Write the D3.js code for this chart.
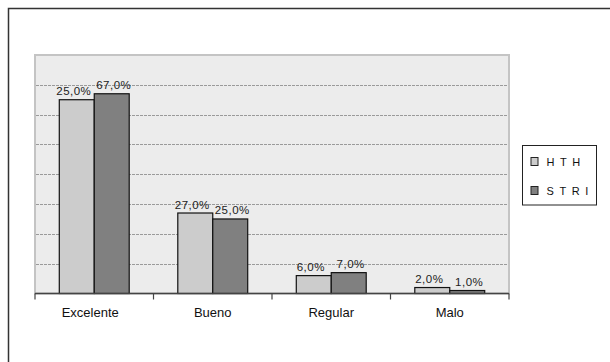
<!DOCTYPE html>
<html><head><meta charset="utf-8">
<script src="https://cdn.jsdelivr.net/npm/d3@7"></script>
<style>
body{margin:0;background:#fff;}
svg{display:block;font-family:"Liberation Sans",Arial,sans-serif;}
</style></head>
<body><svg id="c" width="610" height="362"></svg>
<script>
const categories = ["Excelente","Bueno","Regular","Malo"];
const seriesNames = ["HTH","STRI"];
const hthValues = [65,27,6,2];
const striValues = [67,25,7,1];
const hthLabels = ["25,0%","27,0%","6,0%","2,0%"];
const striLabels = ["67,0%","25,0%","7,0%","1,0%"];
const yTicks = [0,10,20,30,40,50,60,70,80];
const colors = ["#cccccc","#808080"];

const svg = d3.select("#c");
// outer frame (extends beyond the picture on right/bottom)
svg.append("rect").attr("x",8.5).attr("y",8.5).attr("width",700).attr("height",500)
  .attr("fill","none").attr("stroke","#333").attr("stroke-width",1.5);

const L=35, R=509, T=55, B=293.5;
const x0 = d3.scaleBand().domain(categories).range([L,R]).paddingInner(0.41).paddingOuter(0.205);
const x1 = d3.scaleBand().domain(seriesNames).range([0,x0.bandwidth()]);
const y = d3.scaleLinear().domain([0,80]).range([B,T]);

svg.append("rect").attr("x",L).attr("y",T).attr("width",R-L).attr("height",B-T)
  .attr("fill","#ececec").attr("stroke","#c4c4c4").attr("stroke-width",2);

svg.append("g").selectAll("line").data(yTicks.filter(t=>t>0&&t<80)).join("line")
  .attr("x1",L+1).attr("x2",R-1).attr("y1",d=>Math.round(y(d))+0.5).attr("y2",d=>Math.round(y(d))+0.5)
  .attr("stroke","#9a9a9a").attr("stroke-width",1).attr("stroke-dasharray","3,1");

const data = categories.map((c,i)=>({cat:c, vals:[
  {s:"HTH", v:hthValues[i], lab:hthLabels[i], dx:-3},
  {s:"STRI", v:striValues[i], lab:striLabels[i], dx:2}]}));

const g = svg.append("g").selectAll("g").data(data).join("g")
  .attr("transform",d=>`translate(${x0(d.cat)},0)`);
g.selectAll("rect").data(d=>d.vals).join("rect")
  .attr("x",d=>x1(d.s)).attr("width",x1.bandwidth())
  .attr("y",d=>y(d.v)).attr("height",d=>B-y(d.v))
  .attr("fill",(d,i)=>colors[i]).attr("stroke","#111").attr("stroke-width",1.2);
g.selectAll("text").data(d=>d.vals).join("text")
  .attr("x",d=>x1(d.s)+x1.bandwidth()/2+d.dx).attr("y",d=>y(d.v)-4.5)
  .attr("text-anchor","middle").attr("font-size",11.5).attr("letter-spacing",0.5)
  .attr("fill","#222").text(d=>d.lab);

// baseline axis
svg.append("line").attr("x1",L).attr("x2",R).attr("y1",B).attr("y2",B)
  .attr("stroke","#444").attr("stroke-width",1.6);
const step = x0.step();
svg.append("g").selectAll("line").data(d3.range(categories.length+1)).join("line")
  .attr("x1",i=>L+i*step).attr("x2",i=>L+i*step).attr("y1",B).attr("y2",B+6)
  .attr("stroke","#444").attr("stroke-width",1.2);
svg.append("g").selectAll("text").data(categories).join("text")
  .attr("x",(d,i)=>x0(d)+x0.bandwidth()/2+(i===0?-4:0)).attr("y",317)
  .attr("text-anchor","middle").attr("font-size",13).attr("fill","#111").text(d=>d);

// legend
const lg = svg.append("g");
lg.append("rect").attr("x",522.5).attr("y",145.5).attr("width",74).attr("height",59.5)
  .attr("fill","#fff").attr("stroke","#222").attr("stroke-width",1);
seriesNames.forEach((s,i)=>{
  lg.append("rect").attr("x",531).attr("y",157.5+i*29).attr("width",7).attr("height",8)
    .attr("fill",colors[i]).attr("stroke","#222").attr("stroke-width",1);
  lg.append("text").attr("x",546.5).attr("y",165.8+i*29).attr("font-size",11)
    .attr("letter-spacing",5.6).attr("fill","#111").text(s);
});
</script></body></html>
